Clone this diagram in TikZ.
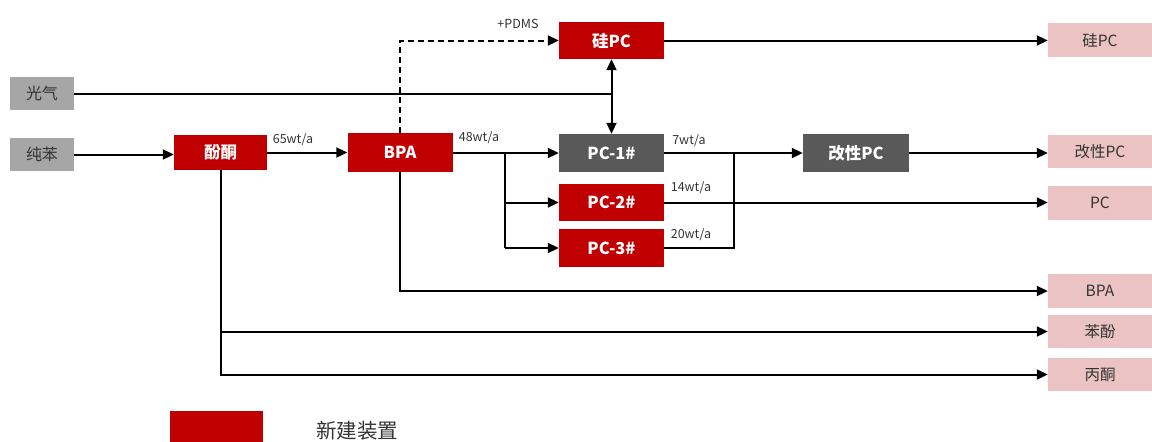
\documentclass[tikz,border=0pt]{standalone}
\usepackage{fontspec}
\setmainfont{Noto Sans CJK SC}
\usetikzlibrary{arrows.meta}
\definecolor{newred}{HTML}{C00000}
\definecolor{darkbox}{HTML}{595959}
\definecolor{ingray}{HTML}{A6A6A6}
\definecolor{outpink}{HTML}{EBC3C3}
\definecolor{txtdark}{HTML}{333333}
\begin{document}
\begin{tikzpicture}[x=1pt,y=-1pt,
  box/.style={rectangle, inner sep=0pt, anchor=center},
  newbox/.style={box, fill=newred, text=white, font=\fontsize{16.5}{16.5}\selectfont\bfseries},
  oldbox/.style={box, fill=darkbox, text=white, font=\fontsize{16.5}{16.5}\selectfont\bfseries},
  inbox/.style={box, fill=ingray, text=txtdark, font=\fontsize{16}{16}\selectfont},
  outbox/.style={box, fill=outpink, text=txtdark, font=\fontsize{15.5}{15.5}\selectfont, minimum width=104pt},
  tip/.tip={Triangle[length=11pt,width=10pt]},
  flow/.style={line width=2pt, -tip},
  plain/.style={line width=2pt},
  lbl/.style={font=\fontsize{12.5}{12.5}\selectfont, text=txtdark, inner sep=0pt}]
\useasboundingbox (0,0) rectangle (1152,442);
% inputs
\node[inbox, minimum width=64pt, minimum height=33pt] (guangqi) at (42,93.5) {光气};
\node[inbox, minimum width=64pt, minimum height=33pt] (chunben) at (42,154.5) {纯苯};
% units
\node[newbox, minimum width=93pt, minimum height=35pt] (fentong) at (220.5,152.5) {酚酮};
\node[newbox, minimum width=105pt, minimum height=39pt] (bpa) at (400,152.5) {BPA};
\node[newbox, minimum width=105pt, minimum height=37pt] (guipc) at (611.5,40.5) {硅PC};
\node[oldbox, minimum width=105pt, minimum height=38pt] (pc1) at (611.5,153) {PC-1\#};
\node[newbox, minimum width=105pt, minimum height=37pt] (pc2) at (611.5,202.5) {PC-2\#};
\node[newbox, minimum width=105pt, minimum height=38pt] (pc3) at (611.5,248) {PC-3\#};
\node[oldbox, minimum width=106pt, minimum height=38pt] (gxpc) at (856,153) {改性PC};
% outputs
\node[outbox, minimum height=34pt] (o1) at (1100,40) {硅PC};
\node[outbox, minimum height=33pt] (o2) at (1100,151.5) {改性PC};
\node[outbox, minimum height=34pt] (o3) at (1100,203) {PC};
\node[outbox, minimum height=34pt] (o4) at (1100,291) {BPA};
\node[outbox, minimum height=33pt] (o5) at (1100,331.5) {苯酚};
\node[outbox, minimum height=33pt] (o6) at (1100,374.5) {丙酮};
% legend
\node[box, fill=newred, minimum width=93pt, minimum height=31pt] (leg) at (216.5,426.5) {};
\node[font=\fontsize{20.5}{20.5}\selectfont, text=txtdark, anchor=west, inner sep=0pt] (legtxt) at (316,431) {新建装置};
% connectors
\draw[plain] (guangqi.east) -- (guangqi.east -| guipc.south);
\draw[line width=2pt, tip-tip] (guipc.south) -- (pc1.north);
\draw[flow] (chunben.east) -- (chunben.east -| fentong.west);
\draw[flow] (fentong.east) -- (fentong.east -| bpa.west);
\node[lbl] (l65) at (293,140) {65wt/a};
\coordinate (sp) at (505,153);
\draw[plain] (bpa.east |- sp) -- (sp);
\draw[flow] (sp) -- (pc1.west);
\draw[plain] (sp) -- (sp |- pc3.west);
\draw[flow] (sp |- pc2.west) -- (pc2.west);
\draw[flow] (sp |- pc3.west) -- (pc3.west);
\node[lbl] (l48) at (479,138) {48wt/a};
\draw[flow] (pc1.east) -- (gxpc.west);
\node[lbl] (l7) at (689,141) {7wt/a};
\coordinate (mg) at (734,153);
\draw[plain] (pc3.east) -- (pc3.east -| mg) -- (mg);
\node[lbl] (l20) at (691,235) {20wt/a};
\draw[flow] (pc2.east) -- (pc2.east -| o3.west);
\node[lbl] (l14) at (691,188) {14wt/a};
\draw[flow] (gxpc.east) -- (gxpc.east -| o2.west);
\draw[flow] (guipc.east) -- (guipc.east -| o1.west);
\draw[flow, dash pattern=on 6pt off 4pt] (bpa.north) |- (guipc.west);
\node[lbl] (lpdms) at (518,24) {+PDMS};
\draw[flow] (bpa.south) |- (o4.west);
\draw[flow] (fentong.south) |- (o6.west);
\draw[flow] (fentong.south |- o5.west) -- (o5.west);
\end{tikzpicture}
\end{document}
